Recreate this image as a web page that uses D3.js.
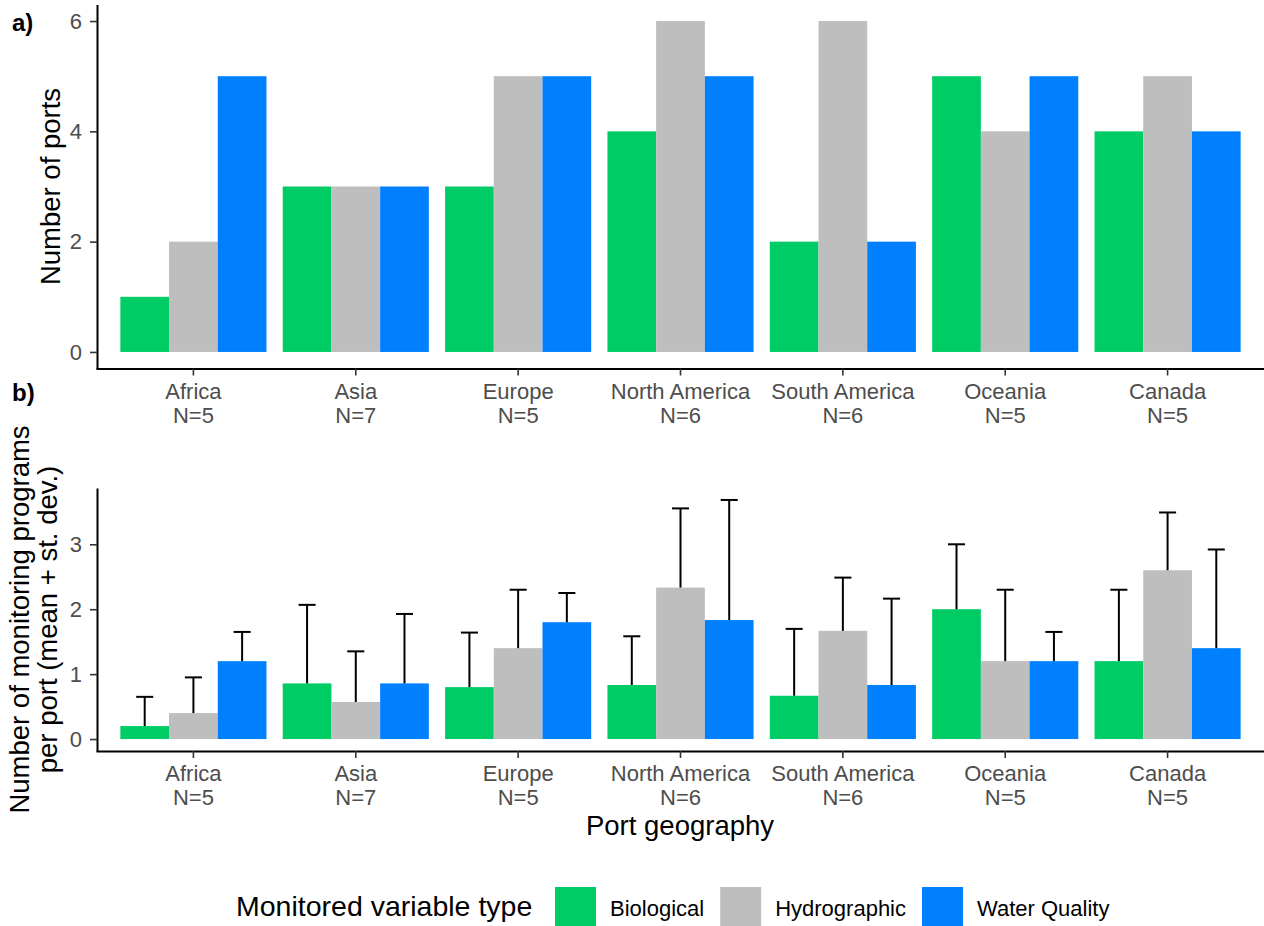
<!DOCTYPE html>
<html>
<head>
<meta charset="utf-8">
<script src="https://cdn.jsdelivr.net/npm/d3@7"></script>
<style>
body { margin: 0; background: #fff; }
svg { display: block; font-family: "Liberation Sans", Arial, sans-serif; }
.axis .domain { stroke: #000; stroke-width: 2px; }
.axis .tick line { stroke: #333; stroke-width: 1.6px; }
.axis .tick text { fill: #4d4d4d; font-size: 22px; }
</style>
</head>
<body>
<div id="chart"></div>
<script>
// categories
const regions = ["Africa", "Asia", "Europe", "North America", "South America", "Oceania", "Canada"];
const portN = [5, 7, 5, 6, 6, 5, 5];
const types = ["Biological", "Hydrographic", "Water Quality"];
const colors = ["#00CC66", "#BEBEBE", "#0080FF"];

// a) number of ports
const portsBio = [1, 3, 3, 4, 2, 5, 4];
const portsHydro = [2, 3, 5, 6, 6, 4, 5];
const portsWQ = [5, 3, 5, 5, 2, 5, 4];

// b) programs per port, mean and st. dev.
const meanBio = [0.2, 0.857, 0.8, 0.833, 0.667, 2.0, 1.2];
const meanHydro = [0.4, 0.571, 1.4, 2.333, 1.667, 1.2, 2.6];
const meanWQ = [1.2, 0.857, 1.8, 1.833, 0.833, 1.2, 1.4];
const sdBio = [0.45, 1.21, 0.84, 0.75, 1.03, 1.0, 1.10];
const sdHydro = [0.55, 0.78, 0.90, 1.22, 0.82, 1.10, 0.89];
const sdWQ = [0.45, 1.07, 0.45, 1.85, 1.33, 0.45, 1.52];

const yTicksA = [0, 2, 4, 6];
const yTicksB = [0, 1, 2, 3];

const width = 1264, height = 926;

const svg = d3.select("#chart").append("svg")
    .attr("width", width)
    .attr("height", height);

const x0 = d3.scaleBand()
    .domain(regions)
    .range([96, 1265])
    .paddingInner(0.1)
    .paddingOuter(0.15);

const x1 = d3.scaleBand()
    .domain(types)
    .range([0, x0.bandwidth()]);

const color = d3.scaleOrdinal().domain(types).range(colors);

function makeRows(a, b, c, sa, sb, sc) {
    const rows = [];
    regions.forEach((r, i) => {
        rows.push({region: r, type: types[0], value: a[i], sd: sa ? sa[i] : 0});
        rows.push({region: r, type: types[1], value: b[i], sd: sb ? sb[i] : 0});
        rows.push({region: r, type: types[2], value: c[i], sd: sc ? sc[i] : 0});
    });
    return rows;
}

function drawPanel(rows, y, ticks, axisY, withErr) {
    const g = svg.append("g");

    g.selectAll("rect.bar").data(rows).enter()
        .append("rect")
        .attr("class", "bar")
        .attr("x", d => x0(d.region) + x1(d.type))
        .attr("width", x1.bandwidth())
        .attr("y", d => y(d.value))
        .attr("height", d => y(0) - y(d.value))
        .attr("fill", d => color(d.type));

    if (withErr) {
        const cap = x1.bandwidth() * 0.35;
        const err = g.selectAll("g.err").data(rows).enter()
            .append("g")
            .attr("class", "err")
            .attr("transform", d => "translate(" + (x0(d.region) + x1(d.type) + x1.bandwidth() / 2) + ",0)");
        err.append("line")
            .attr("y1", d => y(d.value))
            .attr("y2", d => y(d.value + d.sd))
            .attr("stroke", "#000")
            .attr("stroke-width", 2);
        err.append("line")
            .attr("x1", -cap / 2)
            .attr("x2", cap / 2)
            .attr("y1", d => y(d.value + d.sd))
            .attr("y2", d => y(d.value + d.sd))
            .attr("stroke", "#000")
            .attr("stroke-width", 2);
    }

    const xa = g.append("g")
        .attr("class", "axis")
        .attr("transform", "translate(0," + axisY + ")")
        .call(d3.axisBottom(x0).tickSize(7).tickSizeOuter(0));
    xa.selectAll(".tick text").each(function(d, i) {
        const t = d3.select(this);
        t.text(null).attr("y", null).attr("dy", null);
        t.append("tspan").attr("x", 0).attr("y", 30).text(d);
        t.append("tspan").attr("x", 0).attr("y", 54).text("N=" + portN[i]);
    });

    g.append("g")
        .attr("class", "axis")
        .attr("transform", "translate(97,0)")
        .call(d3.axisLeft(y).tickValues(ticks).tickFormat(d3.format("d"))
            .tickSize(7).tickPadding(8).tickSizeOuter(0));
}

// panel a
const yA = d3.scaleLinear()
    .domain([-0.3, 6.3])
    .range([368.5, 4.5]);
drawPanel(makeRows(portsBio, portsHydro, portsWQ), yA, yTicksA, 368.5, false);

// panel b
const rowsB = makeRows(meanBio, meanHydro, meanWQ, sdBio, sdHydro, sdWQ);
const maxB = d3.max(rowsB, d => d.value + d.sd);
const yB = d3.scaleLinear()
    .domain([-0.05 * maxB, maxB * 1.05])
    .range([751, 488]);
drawPanel(rowsB, yB, yTicksB, 751, true);

// titles
svg.append("text")
    .attr("transform", "translate(60,186.5) rotate(-90)")
    .attr("text-anchor", "middle")
    .style("font-size", "27.5px")
    .text("Number of ports");

svg.append("text")
    .attr("transform", "translate(29,619.5) rotate(-90)")
    .attr("text-anchor", "middle")
    .style("font-size", "27.5px")
    .text("Number of monitoring programs");
svg.append("text")
    .attr("transform", "translate(57,619.5) rotate(-90)")
    .attr("text-anchor", "middle")
    .style("font-size", "27.5px")
    .text("per port (mean + st. dev.)");

svg.append("text")
    .attr("x", 680)
    .attr("y", 835)
    .attr("text-anchor", "middle")
    .style("font-size", "27.5px")
    .text("Port geography");

svg.append("text")
    .attr("x", 12).attr("y", 31)
    .style("font-size", "24px").style("font-weight", "bold")
    .text("a)");
svg.append("text")
    .attr("x", 12).attr("y", 401)
    .style("font-size", "24px").style("font-weight", "bold")
    .text("b)");

// legend
const legend = svg.append("g");
let lx = 236;
const lt = legend.append("text")
    .attr("x", lx).attr("y", 916)
    .style("font-size", "28.5px")
    .text("Monitored variable type");
lx = 555;
types.forEach(t => {
    legend.append("rect")
        .attr("x", lx).attr("y", 887)
        .attr("width", 41).attr("height", 42)
        .attr("fill", color(t));
    const lab = legend.append("text")
        .attr("x", lx + 55).attr("y", 916)
        .style("font-size", "22px")
        .text(t);
    lx += 55 + lab.node().getComputedTextLength() + 16;
});
</script>
</body>
</html>
